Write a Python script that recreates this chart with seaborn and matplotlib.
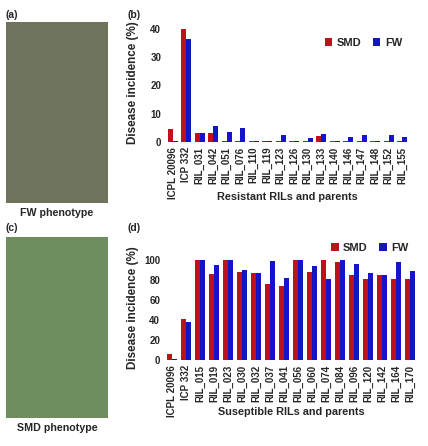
import matplotlib
matplotlib.use("Agg")
import matplotlib.pyplot as plt
import seaborn as sns
import pandas as pd

sns.set_theme(style="white")
plt.rcParams['font.family'] = ['Liberation Sans', 'DejaVu Sans']
plt.rcParams['font.weight'] = 'bold'

# ---- data ----
res_lines = ["ICPL 20096", "ICP 332", "RIL_031", "RIL_042", "RIL_051", "RIL_076",
             "RIL_110", "RIL_119", "RIL_123", "RIL_126", "RIL_130", "RIL_133",
             "RIL_140", "RIL_146", "RIL_147", "RIL_148", "RIL_152", "RIL_155"]
res_smd = [4.7, 40.0, 3.2, 3.2, 0.3, 0.3, 0.3, 0.3, 0.3, 0.3, 0.3, 2.0,
           0.3, 0.3, 0.3, 0.3, 0.3, 0.3]
res_fw = [0.3, 36.5, 3.2, 5.5, 3.4, 5.0, 0.4, 0.4, 2.4, 0.4, 1.4, 3.0,
          0.4, 1.6, 2.6, 0.4, 2.5, 1.6]

sus_lines = ["ICPL 20096", "ICP 332", "RIL_015", "RIL_019", "RIL_023", "RIL_030",
             "RIL_032", "RIL_037", "RIL_041", "RIL_056", "RIL_060", "RIL_074",
             "RIL_084", "RIL_096", "RIL_120", "RIL_142", "RIL_164", "RIL_170"]
sus_smd = [6.0, 41.0, 100, 86.5, 100, 88, 87, 76.5, 74, 100, 88.5, 100,
           98, 85, 81, 85, 81, 81]
sus_fw = [1.0, 38.0, 100, 95, 100, 90, 87, 99, 82.5, 100, 94.3, 81.5,
          100, 96.3, 87, 85.5, 98, 89.6]

diseases = ["SMD", "FW"]
colors = {"SMD": "#C0101A", "FW": "#1414C8"}


def long_df(lines, smd, fw):
    return pd.DataFrame({
        "line": lines * 2,
        "disease": ["SMD"] * len(lines) + ["FW"] * len(lines),
        "value": list(smd) + list(fw),
    })


W, H = 428, 446
fig = plt.figure(figsize=(W / 100, H / 100), dpi=100)
fig.patch.set_facecolor("white")


def fax(l, t, r, b):
    return fig.add_axes([l / W, 1 - b / H, (r - l) / W, (b - t) / H])


# photo placeholders
axa = fax(6, 22, 108, 203)
axa.set_facecolor("#6E735C")
axc = fax(6, 237, 108, 418)
axc.set_facecolor("#6F8E60")
for a in (axa, axc):
    a.set_xticks([]); a.set_yticks([])
    for s in a.spines.values():
        s.set_visible(False)

fig.text(57 / W, 1 - 213 / H, "FW phenotype", ha="center", va="center",
         fontsize=7.7, fontweight="bold")
fig.text(57 / W, 1 - 428 / H, "SMD phenotype", ha="center", va="center",
         fontsize=7.7, fontweight="bold")
for lab, x, y in [("(a)", 6, 15), ("(b)", 127, 15), ("(c)", 6, 228), ("(d)", 127, 228)]:
    fig.text(x / W, 1 - y / H, lab, ha="left", va="center", fontsize=7.5,
             fontweight="bold")

axb = fax(166, 23, 409, 142)
axd = fax(165, 255.5, 417, 360)

for ax, df, ylim, yt, xl, leg_xy, ylab_x, xlab_y in [
    (axb, long_df(res_lines, res_smd, res_fw), (0, 42), [0, 10, 20, 30, 40],
     "Resistant RILs and parents", (0.99, 0.83), -0.113, -0.42),
    (axd, long_df(sus_lines, sus_smd, sus_fw), (0, 105), [0, 20, 40, 60, 80, 100],
     "Suseptible RILs and parents", (0.984, 1.07), -0.105, -0.45),
]:
    sns.barplot(data=df, x="line", y="value", hue="disease", hue_order=diseases,
                palette=colors, width=0.75, gap=0, ax=ax, saturation=1,
                edgecolor="none")
    ax.set_ylim(*ylim)
    ax.set_xlim(-0.5, len(df) / 2 - 0.5)
    ax.set_yticks(yt)
    ax.tick_params(axis="both", length=0, labelsize=7, pad=3.5)
    for t in ax.get_xticklabels():
        t.set_rotation(90)
        t.set_fontweight("bold")
    for t in ax.get_yticklabels():
        t.set_fontweight("bold")
    for s in ax.spines.values():
        s.set_visible(False)
    ax.set_ylabel("Disease incidence (%)", fontsize=8.4, fontweight="bold")
    ax.yaxis.set_label_coords(ylab_x, 0.5)
    ax.set_xlabel(xl, fontsize=7.8, fontweight="bold")
    ax.xaxis.set_label_coords(0.5, xlab_y)
    h, l = ax.get_legend_handles_labels()
    ax.legend(h, l, loc="center right", bbox_to_anchor=leg_xy, ncol=2,
              frameon=False, fontsize=8, handlelength=0.7, handleheight=0.7,
              handletextpad=0.4, columnspacing=1.0, borderaxespad=0)
    ax.set_facecolor("white")

fig.savefig("out.png", dpi=100, facecolor="white")
